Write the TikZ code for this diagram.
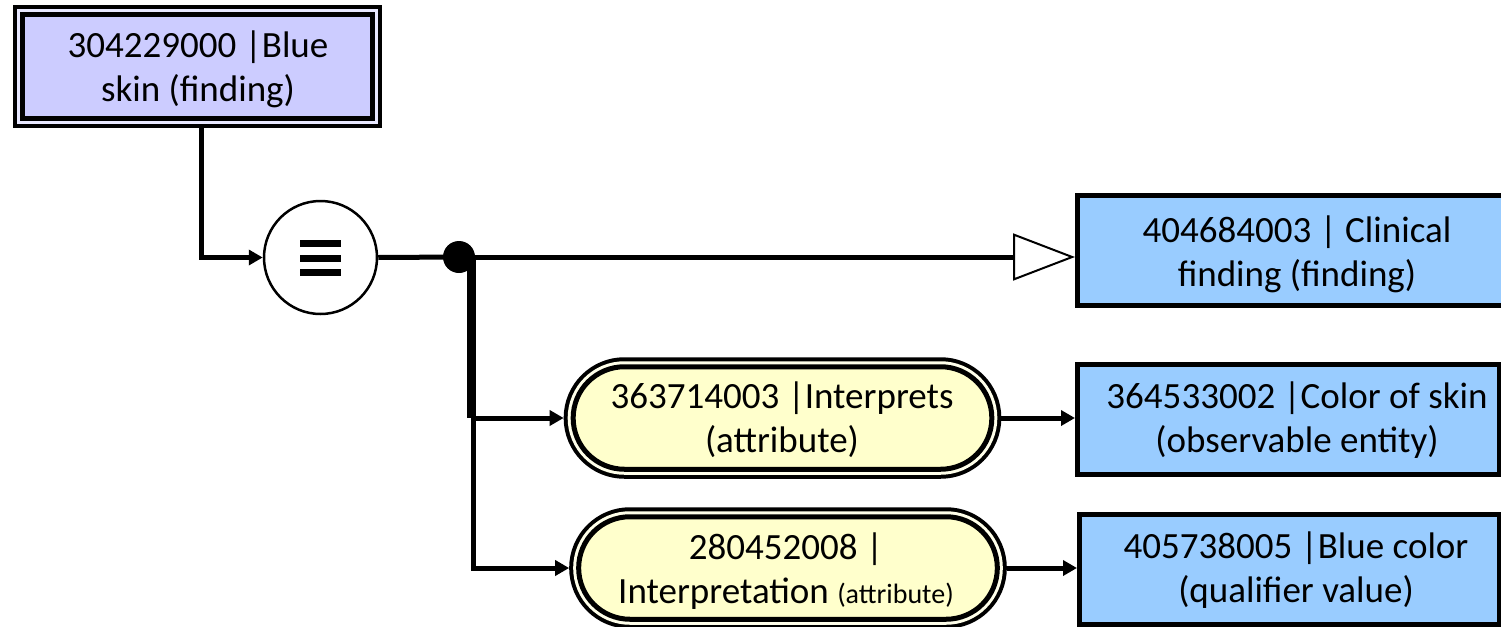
\documentclass[tikz,border=0pt]{standalone}
\usepackage{fontspec}
\setmainfont{Carlito}
\usetikzlibrary{arrows.meta,shapes.misc}

\definecolor{lav}{HTML}{CCCCFF}
\definecolor{lavgap}{HTML}{E8E8FF}
\definecolor{skyfill}{HTML}{99CCFF}
\definecolor{cream}{HTML}{FFFFCC}
\definecolor{creamgap}{HTML}{FFFFEA}

\tikzset{
  lbl/.style={font=\fontsize{18.5}{22}\selectfont, align=center, inner sep=0pt},
  conn/.style={line width=2.5pt, -{Triangle[length=7pt,width=7.5pt]}},
  wire/.style={line width=2.5pt},
  conceptbox/.style={rectangle, fill=lav, draw=black, line width=2.5pt,
    outer sep=4.75pt,
    preaction={draw=black, line width=9.5pt},
    preaction={draw=lavgap, line width=5.75pt}},
  attrbox/.style={rounded rectangle, fill=cream, draw=black, line width=2.5pt,
    minimum width=216pt, minimum height=51.25pt, outer sep=4.75pt,
    preaction={draw=black, line width=9.5pt},
    preaction={draw=creamgap, line width=5.5pt}},
  valuebox/.style={rectangle, fill=skyfill, draw=black, line width=2.5pt,
    minimum height=55pt},
  eqcircle/.style={circle, draw=black, fill=white, line width=1.25pt,
    minimum size=56.5pt, inner sep=0pt},
  joindot/.style={circle, fill=black, minimum size=16pt, inner sep=0pt},
}

\begin{document}
\begin{tikzpicture}[x=0.5pt, y=-0.5pt]
\useasboundingbox (0,0) rectangle (1501,627);
\clip (0,0) rectangle (1501,627);

% defined concept
\node[conceptbox, minimum width=175pt, minimum height=52pt] (top) at (197.5,66.5) {};
\node[lbl] (toptxt) at (198,69.5) {304229000 |Blue\\skin (finding)};

% definition status and junction
\node[eqcircle] (eq) at (320.5,257.5) {};
\fill ([shift={(-20.5,-17.5)}]eq.center) rectangle ++(41,7);
\fill ([shift={(-20.5,-3)}]eq.center) rectangle ++(41,7);
\fill ([shift={(-20.5,11.5)}]eq.center) rectangle ++(41,7);
\node[joindot] (dot) at (459,257) {};

% attributes
\node[attrbox] (st1) at (782.5,418) {};
\node[lbl] (st1txt) at (782,419.5) {363714003 |Interprets\\(attribute)};
\node[attrbox] (st2) at (788,568) {};
\node[lbl] (st2txt) at (786,571) {280452008 |\\Interpretation {\fontsize{14}{16}\selectfont (attribute)}};

% parent concept and attribute values
\node[valuebox, minimum width=221.25pt] (box1) at (1298.75,250) {};
\node[lbl] (b1txt) at (1297,254) {404684003 | Clinical\\finding (finding)};
\node[valuebox, minimum width=210.75pt] (box2) at (1288.25,419.5) {};
\node[lbl] (b2txt) at (1297,420) {364533002 |Color of skin\\(observable entity)};
\node[valuebox, minimum width=209.75pt] (box3) at (1289.25,569.5) {};
\node[lbl] (b3txt) at (1296,570) {405738005 |Blue color\\(qualifier value)};

% connectors
\draw[conn] ([xshift=1.75pt]top.south) |- (eq.west);
\draw[wire] (eq.east) -- (dot.center);
\draw[wire, -{Triangle[length=31pt,width=23.5pt,line width=1pt,fill=white]}]
  (dot.center) -- (dot.center -| box1.west);
\draw[line width=4pt] ([xshift=6pt]dot.center) -- ([xshift=6pt]dot.center |- st1.west);
\draw[conn] ([xshift=7pt]dot.center) |- (st1.west);
\draw[conn] ([xshift=7pt]dot.center) |- (st2.west);
\draw[conn] (st1.east) -- (st1.east -| box2.west);
\draw[conn] (st2.east) -- (st2.east -| box3.west);
\end{tikzpicture}
\end{document}
